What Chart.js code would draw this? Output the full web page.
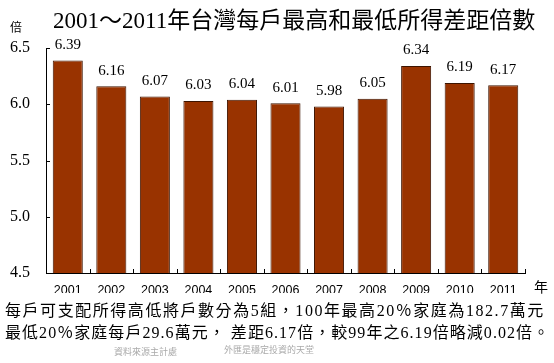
<!DOCTYPE html>
<html>
<head>
<meta charset="utf-8">
<script src="https://cdn.jsdelivr.net/npm/chart.js@4.4.0/dist/chart.umd.min.js"></script>
<style>
  body { margin: 0; background: #fff; }
  #wrap { position: relative; width: 554px; height: 363px; overflow: hidden; }
  #myChart { position: absolute; left: 0; top: 0; }
  .txt { position: absolute; white-space: nowrap; color: #000; font-family: "Liberation Serif", "Noto Sans CJK TC", serif; }
</style>
</head>
<body>
<div id="wrap">
  <canvas id="myChart" width="554" height="363"></canvas>
  <div class="txt" style="left:53px; top:1px; font-size:23px;">2001～2011年台灣每戶最高和最低所得差距倍數</div>
  <div class="txt" style="left:10px; top:18px; font-size:12px;">倍</div>
  <div class="txt" style="left:534px; top:276px; font-size:14px;">年</div>
  <div class="txt" style="left:5px; top:297px; font-size:16px; letter-spacing:1.55px;">每戶可支配所得高低將戶數分為5組，100年最高20％家庭為182.7萬元</div>
  <div class="txt" style="left:5px; top:319px; font-size:16px; letter-spacing:1.05px;">最低20％家庭每戶29.6萬元，  差距6.17倍，較99年之6.19倍略減0.02倍。</div>
  <div class="txt" style="left:114px; top:345px; font-size:9px; color:#aaa; font-family:'Noto Sans CJK TC';">資料來源主計處</div>
  <div class="txt" style="left:224px; top:343px; font-size:9px; color:#aaa; font-family:'Noto Sans CJK TC';">外匯是穩定投資的天堂</div>
</div>
<script>
const ctx = document.getElementById('myChart').getContext('2d')

const labels = ['2001', '2002', '2003', '2004', '2005', '2006', '2007', '2008', '2009', '2010', '2011']
const values = [6.39, 6.16, 6.07, 6.03, 6.04, 6.01, 5.98, 6.05, 6.34, 6.19, 6.17]
const yTicks = [4.5, 5.0, 5.5, 6.0, 6.5]

// value labels above bars + small inward ticks on both axes
const extras = {
  id: 'extras',
  afterDatasetsDraw(chart) {
    const c = chart.ctx
    const meta = chart.getDatasetMeta(0)
    c.save()
    c.fillStyle = '#000'
    c.font = '15px "Liberation Serif", serif'
    c.textAlign = 'center'
    c.textBaseline = 'bottom'
    meta.data.forEach((bar, i) => {
      c.fillText(values[i].toFixed(2), bar.x, bar.y - 8)
    })

    const x = chart.scales.x, y = chart.scales.y
    const area = chart.chartArea
    c.strokeStyle = '#000'
    c.lineWidth = 1
    c.beginPath()
    yTicks.forEach(v => {
      const py = Math.round(y.getPixelForValue(v)) + 0.5
      c.moveTo(area.left, py)
      c.lineTo(area.left + 4, py)
    })
    for (let i = 1; i <= labels.length; i++) {
      const px = Math.round((x.getPixelForValue(i - 1) + x.getPixelForValue(i)) / 2) + 0.5
      const pxe = i === labels.length ? area.right + 0.5 : px
      c.moveTo(pxe, area.bottom)
      c.lineTo(pxe, area.bottom - 4)
    }
    c.stroke()
    c.restore()
  }
}

const data = {
  labels,
  datasets: [{
    data: values,
    backgroundColor: '#993300',
    borderColor: '#3d1400',
    borderWidth: 1,
    barPercentage: 0.69,
    categoryPercentage: 1.0
  }]
}

const config = {
  type: 'bar',
  data,
  options: {
    responsive: false,
    animation: false,
    layout: { padding: { top: 48, right: 29, bottom: 70, left: 6 } },
    plugins: { legend: { display: false }, tooltip: { enabled: false } },
    scales: {
      x: {
        afterFit: s => { s.height = 20 },
        grid: { display: false },
        border: { display: true, color: '#000', width: 1 },
        ticks: {
          color: '#000',
          padding: 2,
          maxRotation: 0,
          autoSkip: false,
          font: { family: '"Liberation Sans", Arial, sans-serif', size: 12.5 }
        }
      },
      y: {
        min: 4.5,
        max: 6.5,
        afterFit: s => { s.width = 40 },
        afterBuildTicks: s => { s.ticks = yTicks.map(v => ({ value: v })) },
        grid: { display: false },
        border: { display: true, color: '#000', width: 1 },
        ticks: {
          color: '#000',
          padding: 8,
          font: { family: '"Liberation Serif", serif', size: 16 },
          callback: v => v.toFixed(1)
        }
      }
    }
  },
  plugins: [extras]
}

const myChart = new Chart(ctx, config)
</script>
</body>
</html>
